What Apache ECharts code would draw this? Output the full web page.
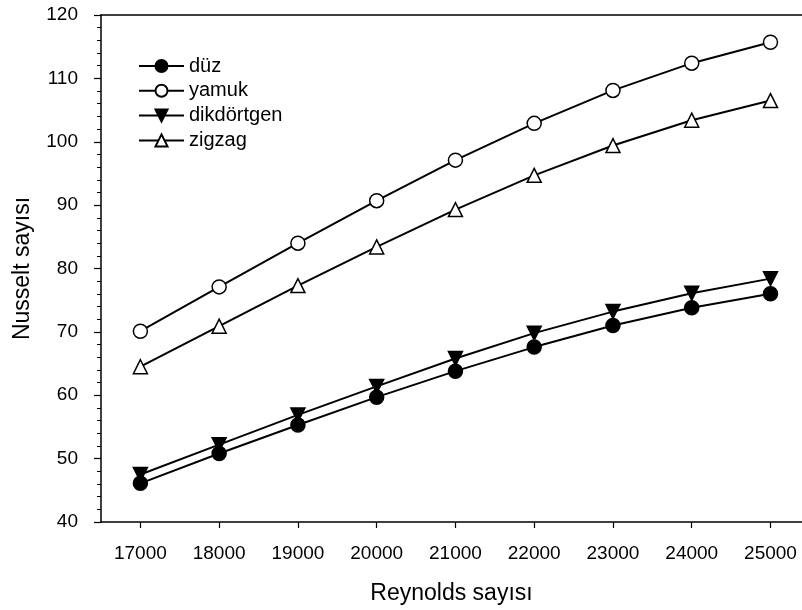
<!DOCTYPE html>
<html><head><meta charset="utf-8">
<script src="https://cdn.jsdelivr.net/npm/echarts@6/dist/echarts.min.js"></script>
<style>html,body{margin:0;padding:0;background:#fff}#c{width:802px;height:610px}</style>
</head><body><div id="c"></div>
<script>
var reynolds = [17000, 18000, 19000, 20000, 21000, 22000, 23000, 24000, 25000];
var duz = [46.1, 50.8, 55.3, 59.7, 63.8, 67.6, 71.0, 73.8, 76.0];
var yamuk = [70.1, 77.1, 84.0, 90.7, 97.1, 102.9, 108.1, 112.4, 115.7];
var dikdortgen = [47.5, 52.2, 56.9, 61.4, 65.8, 69.8, 73.2, 76.1, 78.4];
var zigzag = [64.5, 70.9, 77.3, 83.4, 89.3, 94.7, 99.4, 103.4, 106.5];
var seriesNames = ['düz', 'yamuk', 'dikdörtgen', 'zigzag'];
var xTicks = [17000, 18000, 19000, 20000, 21000, 22000, 23000, 24000, 25000];

function pairs(vals){ return reynolds.map(function(r,i){ return [r, vals[i]]; }); }
var font = 'Liberation Sans, Arial, sans-serif';
function mk(name, vals, symbol, filled, size){
  return {
    name: name, type: 'line', data: pairs(vals), symbol: symbol, symbolSize: size,
    showAllSymbol: true, z: 3,
    lineStyle: {color: '#000', width: 2},
    itemStyle: {color: filled ? '#000' : '#fff', borderColor: '#000', borderWidth: 1.5, opacity: 1},
    emphasis: {disabled: true}
  };
}
var downTri = 'path://M0,0 L10,0 L5,9 Z';
var upTri = 'path://M5,0 L10,9 L0,9 Z';
var chart = echarts.init(document.getElementById('c'), null, {renderer: 'canvas'});
chart.setOption({
  animation: false,
  backgroundColor: '#fff',
  grid: {left: 101, top: 15, right: 0, bottom: 86},
  legend: {
    left: 133, top: 51, orient: 'vertical', itemGap: 4.8, itemWidth: 45, itemHeight: 15,
    textStyle: {fontFamily: font, fontSize: 20, color: '#000', lineHeight: 20},
    data: seriesNames
  },
  xAxis: [{
    type: 'value', min: 16500, max: 25400,
    name: 'Reynolds sayısı', nameLocation: 'middle', nameGap: 60,
    nameTextStyle: {fontFamily: font, fontSize: 23, color: '#000'},
    axisLine: {show: true, onZero: false, lineStyle: {color: '#000', width: 1.5}},
    axisTick: {show: true, length: 6, customValues: xTicks, lineStyle: {color: '#000', width: 1.2}},
    axisLabel: {fontFamily: font, fontSize: 19, color: '#000', margin: 22, customValues: xTicks,
      formatter: function(v){ return String(v); }},
    splitLine: {show: false}
  }, {
    type: 'value', position: 'top', min: 16500, max: 25400,
    axisLine: {show: true, lineStyle: {color: '#000', width: 1.5}},
    axisTick: {show: false}, axisLabel: {show: false}, splitLine: {show: false}
  }],
  yAxis: {
    type: 'value', min: 40, max: 120, interval: 10,
    name: 'Nusselt sayısı', nameLocation: 'middle', nameGap: 67,
    nameTextStyle: {fontFamily: font, fontSize: 23, color: '#000'},
    axisLine: {show: true, onZero: false, lineStyle: {color: '#000', width: 1.5}},
    axisTick: {show: true, length: 7, lineStyle: {color: '#000', width: 1.2}},
    minorTick: {show: true, splitNumber: 5, length: 4, lineStyle: {color: '#000', width: 1}},
    axisLabel: {fontFamily: font, fontSize: 19, color: '#000', margin: 23},
    splitLine: {show: false}
  },
  series: [
    mk('düz', duz, 'circle', true, 14),
    mk('yamuk', yamuk, 'circle', false, 14),
    mk('dikdörtgen', dikdortgen, downTri, true, 14),
    mk('zigzag', zigzag, upTri, false, 14)
  ]
});
</script></body></html>
